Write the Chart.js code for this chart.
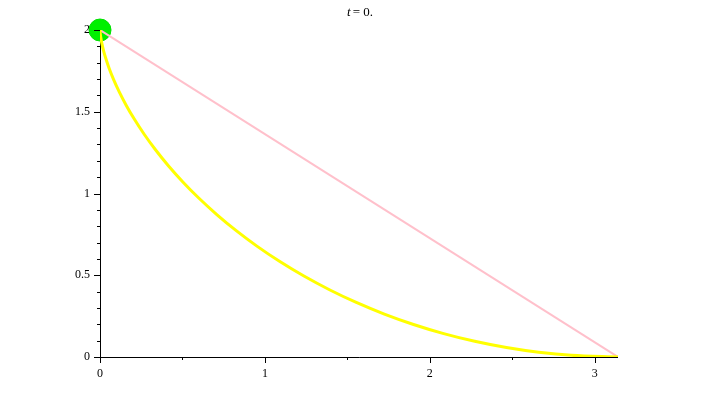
<!DOCTYPE html>
<html>
<head>
<meta charset="utf-8">
<script src="https://cdn.jsdelivr.net/npm/chart.js@4"></script>
<style>
  html, body { margin: 0; padding: 0; background: #fff; }
  #wrap { width: 718px; height: 400px; }
</style>
</head>
<body>
<div id="wrap"><canvas id="plot"></canvas></div>
<script>
// Данные кривой (циклоида)
const curveX = [0, 0.00017, 0.00133, 0.00448, 0.01058, 0.02057, 0.03536, 0.05578, 0.08264, 0.11667, 0.15853,
    0.20879, 0.26796, 0.33644, 0.41455, 0.50251, 0.60043, 0.70834, 0.82615, 0.9537, 1.0907, 1.23679,
    1.3915, 1.55429, 1.72454, 1.90153, 2.0845, 2.27262, 2.46501, 2.66075, 2.85888, 3.14159];
const curveY = [2, 1.995, 1.9801, 1.95534, 1.92106, 1.87758, 1.82534, 1.76484, 1.69671, 1.62161, 1.5403,
    1.4536, 1.36236, 1.2675, 1.16997, 1.07074, 0.9708, 0.87116, 0.77276, 0.67668, 0.58385, 0.49515,
    0.4115, 0.33372, 0.2626, 0.19886, 0.14315, 0.09595, 0.05779, 0.029, 0.01001, 0];
// Прямая линия
const lineX = [0, 3.14159];
const lineY = [2, 0];
// Точка (шарик)
const ballX = [0];
const ballY = [2];
const xMax = 3.14159;
// Засечки осей
const xTicks = [0, 0.5, 1, 1.5, 2, 2.5, 3];
const yTicks = [0, 0.1, 0.2, 0.3, 0.4, 0.5, 0.6, 0.7, 0.8, 0.9, 1, 1.1, 1.2, 1.3, 1.4, 1.5, 1.6, 1.7, 1.8, 1.9, 2];
const titleVar = 't';
const titleRest = '= 0.';

const toPoints = (xs, ys) => xs.map((x, i) => ({ x: x, y: ys[i] }));
const serif = "'Liberation Serif', 'DejaVu Serif', serif";
const isMultiple = (v, step) => Math.abs(v / step - Math.round(v / step)) < 1e-6;

// Рисуем оси и засечки поверх шарика, но под линиями
const axesPlugin = {
    id: 'axes',
    beforeDatasetDraw(chart, args) {
        if (args.index !== 1) return;
        const ctx = chart.ctx;
        const xs = chart.scales.x, ys = chart.scales.y;
        const x0 = Math.round(xs.getPixelForValue(0)), y0 = Math.round(ys.getPixelForValue(0));
        ctx.save();
        ctx.strokeStyle = '#000';
        ctx.lineWidth = 1;
        ctx.beginPath();
        ctx.moveTo(x0 + 0.5, ys.getPixelForValue(2));
        ctx.lineTo(x0 + 0.5, y0 + 0.5);
        ctx.lineTo(xs.getPixelForValue(xMax), y0 + 0.5);
        xTicks.forEach(v => {
            const px = Math.round(xs.getPixelForValue(v)) + 0.5;
            ctx.moveTo(px, y0);
            ctx.lineTo(px, y0 + (isMultiple(v, 1) ? 6 : 3));
        });
        yTicks.forEach(v => {
            const py = Math.round(ys.getPixelForValue(v)) + 0.5;
            ctx.moveTo(x0, py);
            ctx.lineTo(x0 - (isMultiple(v, 0.5) ? 6 : 3), py);
        });
        ctx.stroke();
        ctx.restore();
    },
    afterDraw(chart) {
        // Заголовок: курсивная t и остальной текст
        const ctx = chart.ctx;
        ctx.save();
        ctx.fillStyle = '#000';
        ctx.textBaseline = 'alphabetic';
        ctx.font = 'italic 13px ' + serif;
        const w1 = ctx.measureText(titleVar).width;
        ctx.font = '13px ' + serif;
        const w2 = ctx.measureText(titleRest).width;
        const start = 360 - (w1 + 2 + w2) / 2;
        ctx.font = 'italic 13px ' + serif;
        ctx.fillText(titleVar, start, 16);
        ctx.font = '13px ' + serif;
        ctx.fillText(titleRest, start + w1 + 2, 16);
        ctx.restore();
    }
};

const ctx = document.getElementById('plot').getContext('2d');
new Chart(ctx, {
    type: 'line',
    data: {
        datasets: [
            {
                data: toPoints(ballX, ballY),
                showLine: false,
                pointRadius: 11,
                pointBackgroundColor: '#00f000',
                pointBorderColor: '#00e000',
                pointBorderWidth: 1,
                clip: false,
                order: 3
            },
            {
                data: toPoints(lineX, lineY),
                borderColor: '#ffc0cb',
                borderWidth: 2,
                pointRadius: 0,
                order: 2
            },
            {
                data: toPoints(curveX, curveY),
                borderColor: '#ffff00',
                borderWidth: 3,
                pointRadius: 0,
                cubicInterpolationMode: 'monotone',
                order: 1
            }
        ]
    },
    options: {
        responsive: true,
        maintainAspectRatio: false,
        animation: false,
        events: [],
        layout: { padding: { left: 0, right: 100, top: 30, bottom: 0 } },
        plugins: { legend: { display: false }, tooltip: { enabled: false }, title: { display: false } },
        scales: {
            x: {
                type: 'linear',
                min: 0,
                max: xMax,
                grid: { display: false, tickLength: 8 },
                border: { display: false },
                afterBuildTicks: s => { s.ticks = xTicks.map(v => ({ value: v })); },
                afterFit: s => { s.height = 43; },
                ticks: {
                    autoSkip: false,
                    maxRotation: 0,
                    padding: 2,
                    color: '#000',
                    font: { family: serif, size: 12 },
                    callback: v => (isMultiple(v, 1) ? String(v) : '')
                }
            },
            y: {
                type: 'linear',
                min: 0,
                max: 2,
                grid: { display: false, tickLength: 8 },
                border: { display: false },
                afterBuildTicks: s => { s.ticks = yTicks.map(v => ({ value: v })); },
                afterFit: s => { s.width = 100; },
                ticks: {
                    autoSkip: false,
                    padding: 2,
                    color: '#000',
                    font: { family: serif, size: 12 },
                    callback: v => (isMultiple(v, 0.5) ? String(v) : '')
                }
            }
        }
    },
    plugins: [axesPlugin]
});
</script>
</body>
</html>
